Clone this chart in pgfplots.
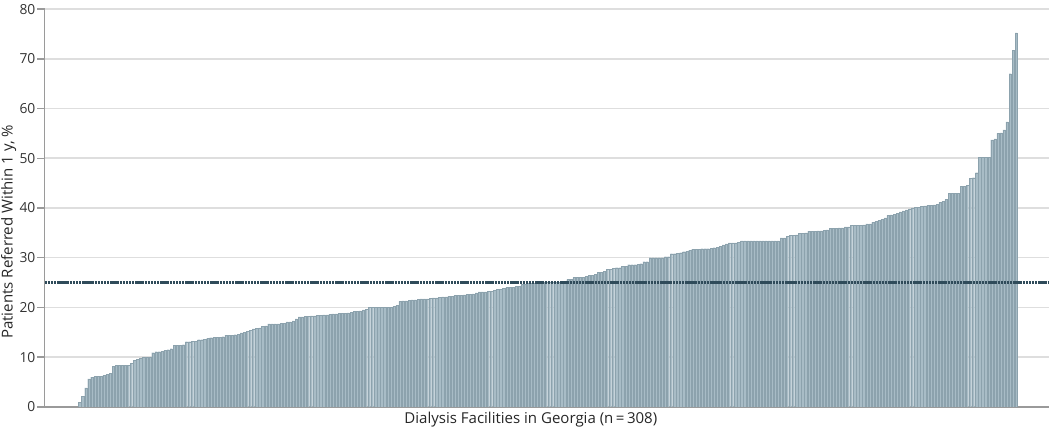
\documentclass[border=0pt]{standalone}
\usepackage{pgfplots}
\pgfplotsset{compat=1.18}
\usepackage{pgfplotstable}
\usepackage{fontspec}
\setmainfont{Open Sans}
\definecolor{barfill}{HTML}{A8BCC6}
\definecolor{baredge}{HTML}{8CA2AD}
\definecolor{refline}{HTML}{2F4B5A}
\definecolor{gridgray}{HTML}{DEDEDE}
\definecolor{axisgray}{HTML}{9A9A9A}

% share of patients referred within 1 y, one row per facility, sorted
\pgfplotstableread[row sep=\\]{
v\\
0.9\\ 2.1\\ 3.8\\ 5.6\\ 6.0\\ 6.1\\ 6.2\\ 6.2\\ 6.4\\ 6.5\\
6.8\\ 8.1\\ 8.3\\ 8.3\\ 8.3\\ 8.4\\ 8.4\\ 8.8\\ 9.3\\ 9.6\\
9.8\\ 9.9\\ 10.0\\ 10.0\\ 10.9\\ 11.1\\ 11.1\\ 11.2\\ 11.4\\ 11.5\\
11.7\\ 12.4\\ 12.4\\ 12.4\\ 12.5\\ 13.1\\ 13.1\\ 13.2\\ 13.2\\ 13.5\\
13.5\\ 13.6\\ 13.8\\ 13.9\\ 14.0\\ 14.0\\ 14.0\\ 14.1\\ 14.4\\ 14.4\\
14.4\\ 14.5\\ 14.6\\ 14.9\\ 15.0\\ 15.2\\ 15.4\\ 15.7\\ 15.8\\ 15.9\\
16.2\\ 16.3\\ 16.7\\ 16.7\\ 16.7\\ 16.7\\ 16.8\\ 16.8\\ 17.1\\ 17.1\\
17.3\\ 17.7\\ 18.1\\ 18.1\\ 18.2\\ 18.2\\ 18.3\\ 18.3\\ 18.4\\ 18.4\\
18.5\\ 18.5\\ 18.6\\ 18.7\\ 18.7\\ 18.8\\ 18.8\\ 18.8\\ 18.9\\ 19.0\\
19.2\\ 19.2\\ 19.3\\ 19.5\\ 19.6\\ 20.0\\ 20.0\\ 20.0\\ 20.0\\ 20.0\\
20.0\\ 20.0\\ 20.0\\ 20.2\\ 20.4\\ 21.2\\ 21.3\\ 21.3\\ 21.4\\ 21.5\\
21.5\\ 21.6\\ 21.7\\ 21.7\\ 21.7\\ 21.8\\ 21.9\\ 21.9\\ 22.0\\ 22.1\\
22.1\\ 22.2\\ 22.2\\ 22.4\\ 22.4\\ 22.4\\ 22.5\\ 22.6\\ 22.6\\ 22.7\\
22.9\\ 23.1\\ 23.1\\ 23.1\\ 23.2\\ 23.2\\ 23.4\\ 23.6\\ 23.7\\ 23.8\\
24.0\\ 24.1\\ 24.1\\ 24.2\\ 24.2\\ 24.6\\ 24.7\\ 24.9\\ 24.9\\ 24.9\\
24.9\\ 25.0\\ 25.0\\ 25.0\\ 25.0\\ 25.0\\ 25.1\\ 25.1\\ 25.3\\ 25.3\\
25.6\\ 25.6\\ 26.0\\ 26.0\\ 26.0\\ 26.1\\ 26.2\\ 26.5\\ 26.5\\ 26.7\\
27.0\\ 27.0\\ 27.3\\ 27.7\\ 27.7\\ 27.8\\ 28.0\\ 28.0\\ 28.3\\ 28.3\\
28.6\\ 28.6\\ 28.6\\ 28.7\\ 28.8\\ 29.2\\ 29.2\\ 30.0\\ 30.0\\ 30.0\\
30.0\\ 30.0\\ 30.2\\ 30.2\\ 30.8\\ 30.8\\ 30.9\\ 31.0\\ 31.2\\ 31.3\\
31.5\\ 31.7\\ 31.7\\ 31.7\\ 31.8\\ 31.8\\ 31.8\\ 31.9\\ 32.0\\ 32.1\\
32.3\\ 32.6\\ 32.8\\ 33.0\\ 33.0\\ 33.0\\ 33.1\\ 33.4\\ 33.4\\ 33.4\\
33.4\\ 33.4\\ 33.4\\ 33.4\\ 33.4\\ 33.4\\ 33.4\\ 33.4\\ 33.4\\ 33.4\\
34.0\\ 34.0\\ 34.3\\ 34.5\\ 34.5\\ 34.6\\ 34.9\\ 34.9\\ 35.0\\ 35.3\\
35.3\\ 35.3\\ 35.4\\ 35.4\\ 35.5\\ 35.6\\ 35.9\\ 35.9\\ 35.9\\ 36.0\\
36.0\\ 36.2\\ 36.2\\ 36.5\\ 36.5\\ 36.5\\ 36.5\\ 36.6\\ 36.8\\ 36.8\\
37.1\\ 37.3\\ 37.5\\ 37.7\\ 38.0\\ 38.5\\ 38.6\\ 38.7\\ 38.9\\ 39.2\\
39.4\\ 39.6\\ 39.8\\ 40.0\\ 40.1\\ 40.1\\ 40.3\\ 40.4\\ 40.5\\ 40.5\\
40.6\\ 40.7\\ 41.1\\ 41.3\\ 41.7\\ 42.9\\ 42.9\\ 42.9\\ 42.9\\ 44.4\\
44.4\\ 44.6\\ 46.0\\ 46.1\\ 47.1\\ 50.2\\ 50.2\\ 50.2\\ 50.2\\ 53.7\\
53.9\\ 55.0\\ 55.1\\ 55.7\\ 57.3\\ 67.0\\ 71.7\\ 75.2\\
}\referred

\begin{document}
\begin{tikzpicture}
\begin{axis}[
  scale only axis,
  width=836pt, height=331pt,
  xmin=-11.5, xmax=317.8,
  ymin=0, ymax=80,
  ytick={0,10,...,80},
  xtick=\empty,
  axis x line*=bottom,
  axis y line*=left,
  axis line style={axisgray, line width=1.2pt},
  ytick style={axisgray, line width=1.2pt},
  tick align=outside,
  major tick length=6pt,
  ymajorgrids,
  grid style={gridgray, line width=1.3pt},
  tick label style={font=\fontsize{11.5}{13}\selectfont, text=black!80},
  yticklabel style={/pgf/number format/assume math mode=true, inner xsep=1.5pt},
  xlabel={Dialysis Facilities in Georgia (n\,=\,308)},
  ylabel={Patients Referred Within 1 y, \%},
  label style={font=\fontsize{12.5}{14}\selectfont, text=black!85},
  xlabel style={at={(axis description cs:0.484,0)}, anchor=north, yshift=-1pt},
  ylabel style={at={(ticklabel cs:0.44)}, inner sep=1pt, xshift=0pt},
]
\addplot[ybar, bar width=0.76, fill=barfill, draw=baredge, line width=0.2pt]
  table[x expr=\coordindex, y=v]{\referred};
\addplot[refline, line width=2pt, dash pattern=on 2pt off 0.6pt]
  coordinates {(-11.5,25) (317.8,25)};
\end{axis}
\end{tikzpicture}
\end{document}
